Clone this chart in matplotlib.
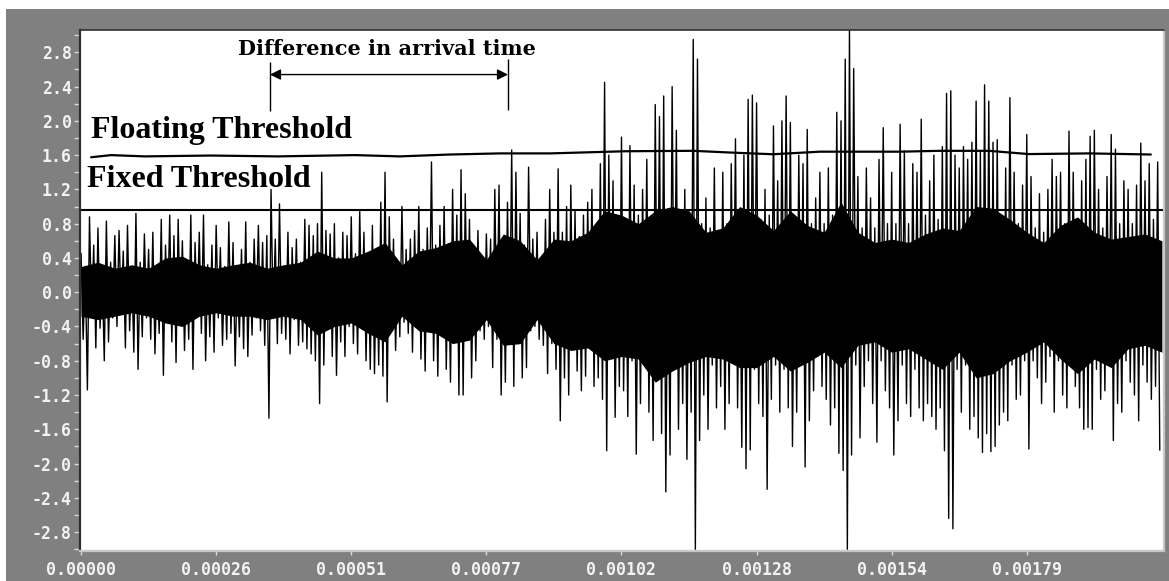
import numpy as np
import matplotlib.pyplot as plt
from matplotlib.patches import Rectangle
from matplotlib.ticker import MultipleLocator, FormatStrFormatter

# signal peaks, one value every 4 us (alternating up / down strokes)
dt = 4e-6
signal = [
    0.45, -0.55, 0.30, -1.14, 0.88, -0.28, 0.55, -0.65, 0.75, -0.42, 0.25, -0.80, 0.83, -0.58, 0.35, -0.30,
    0.66, -0.40, 0.72, -0.25, 0.48, -0.65, 0.78, -0.45, 0.30, -0.70, 0.92, -0.90, 0.35, -0.52, 0.68, -0.30,
    0.50, -0.55, 0.70, -0.72, 0.28, -0.48, 0.85, -0.97, 0.55, -0.30, 0.90, -0.58, 0.66, -0.82, 0.85, -0.35,
    0.60, -0.68, 0.30, -0.55, 0.90, -0.90, 0.58, -0.28, 0.70, -0.48, 0.90, -0.80, 0.32, -0.52, 0.55, -0.70,
    0.78, -0.30, 0.52, -0.62, 0.30, -0.55, 0.82, -0.48, 0.58, -0.86, 0.28, -0.52, 0.50, -0.66, 0.82, -0.75,
    0.35, -0.50, 0.62, -0.30, 0.78, -0.45, 0.58, -0.62, 0.66, -1.47, 1.20, -0.30, 0.62, -0.60, 1.03, -0.48,
    0.30, -0.55, 0.70, -0.72, 0.52, -0.32, 0.62, -0.62, 0.35, -0.58, 0.85, -0.66, 0.78, -0.72, 0.66, -0.80,
    0.80, -1.30, 1.40, -0.85, 0.72, -0.40, 0.68, -0.75, 0.80, -0.97, 0.40, -0.58, 0.70, -0.75, 0.66, -0.40,
    0.88, -0.60, 0.45, -0.72, 0.95, -0.40, 0.70, -0.80, 0.45, -0.90, 0.78, -0.95, 0.50, -0.85, 1.05, -0.98,
    1.40, -1.28, 0.88, -0.45, 0.62, -0.68, 0.35, -0.52, 1.00, -0.35, 0.50, -0.48, 0.62, -0.70, 0.72, -0.40,
    1.00, -0.78, 0.50, -0.92, 0.75, -0.45, 1.52, -0.80, 0.55, -0.98, 0.78, -0.50, 1.00, -0.90, 0.50, -1.05,
    1.20, -0.55, 0.90, -1.20, 1.43, -1.20, 1.15, -0.50, 0.85, -1.00, 0.55, -0.80, 0.72, -0.45, 0.40, -0.55,
    0.68, -0.40, 0.62, -0.88, 1.20, -0.55, 1.25, -1.20, 0.60, -1.05, 1.05, -0.60, 1.66, -1.10, 1.40, -0.60,
    0.92, -1.00, 0.55, -0.88, 1.46, -0.45, 0.62, -0.40, 0.70, -0.55, 0.40, -0.62, 0.85, -0.95, 1.20, -0.60,
    0.70, -0.90, 1.44, -1.50, 0.70, -1.00, 1.00, -1.20, 1.25, -0.65, 0.95, -0.92, 0.65, -1.15, 0.90, -0.98,
    1.05, -0.65, 1.20, -1.10, 0.75, -1.00, 1.50, -1.25, 2.45, -1.85, 1.60, -0.70, 1.30, -1.46, 0.80, -1.10,
    1.81, -1.15, 0.80, -1.45, 1.71, -0.80, 1.25, -1.89, 0.90, -1.30, 1.20, -0.75, 1.55, -1.40, 0.85, -1.73,
    2.19, -0.90, 2.05, -1.65, 2.29, -2.33, 0.85, -1.90, 2.40, -0.80, 1.89, -1.60, 0.80, -1.30, 1.20, -1.95,
    0.90, -1.40, 2.95, -3.00, 2.72, -1.73, 0.80, -1.20, 1.10, -1.60, 0.75, -0.85, 1.45, -1.35, 0.70, -1.10,
    1.40, -1.60, 0.80, -1.30, 1.50, -0.80, 1.79, -1.35, 0.85, -1.81, 1.60, -2.06, 2.25, -1.84, 2.30, -0.90,
    2.21, -1.30, 0.85, -1.45, 1.20, -2.30, 0.90, -1.25, 1.94, -0.85, 1.30, -1.40, 2.00, -0.90, 2.29, -1.35,
    1.98, -1.80, 0.85, -1.40, 1.60, -0.80, 1.50, -2.04, 1.90, -1.50, 0.80, -1.15, 1.10, -0.75, 1.40, -1.10,
    0.80, -1.25, 1.45, -1.55, 0.90, -1.35, 2.10, -1.88, 2.00, -2.08, 2.72, -3.00, 3.06, -1.90, 2.61, -0.85,
    1.35, -1.70, 0.75, -1.10, 1.45, -0.80, 1.10, -1.30, 0.75, -1.75, 1.55, -0.80, 1.92, -1.15, 0.80, -1.35,
    1.40, -1.90, 0.80, -1.50, 1.96, -0.85, 1.65, -1.30, 0.80, -1.45, 1.50, -0.90, 1.40, -1.35, 2.02, -1.50,
    0.90, -1.30, 1.30, -1.45, 1.60, -1.60, 0.85, -1.35, 1.70, -1.85, 2.32, -2.64, 2.35, -2.76, 1.60, -0.90,
    1.45, -1.40, 1.70, -0.85, 1.55, -1.60, 1.75, -1.45, 2.23, -1.70, 1.65, -1.87, 2.42, -1.65, 2.23, -1.86,
    1.75, -1.80, 1.78, -1.55, 0.90, -1.40, 1.45, -1.50, 2.27, -0.85, 1.40, -1.25, 0.80, -1.20, 1.25, -0.80,
    1.84, -1.83, 1.35, -0.80, 0.75, -1.00, 1.15, -1.30, 0.70, -1.05, 1.20, -0.75, 1.55, -1.40, 1.35, -0.80,
    1.40, -1.20, 0.80, -1.35, 1.88, -0.85, 1.40, -1.10, 0.85, -1.35, 1.30, -1.60, 1.55, -1.58, 1.82, -1.60,
    1.89, -0.90, 1.20, -1.25, 0.75, -1.15, 1.35, -0.85, 1.84, -1.73, 1.67, -1.30, 0.80, -1.40, 1.30, -0.80,
    1.20, -1.05, 0.80, -1.20, 1.25, -1.50, 1.74, -0.85, 1.30, -1.05, 1.50, -1.25, 0.85, -1.10, 1.52, -1.84,
]

# solid black band of the trace, one value every 32 us
core_hi = [0.30, 0.35, 0.28, 0.32, 0.28, 0.40, 0.42, 0.32, 0.28, 0.32, 0.35, 0.28, 0.32, 0.35, 0.48, 0.40,
           0.40, 0.48, 0.58, 0.32, 0.48, 0.52, 0.60, 0.62, 0.38, 0.68, 0.60, 0.38, 0.62, 0.60, 0.70, 0.95,
           0.90, 0.80, 0.95, 1.00, 0.95, 0.70, 0.75, 1.00, 0.90, 0.72, 0.95, 0.78, 0.70, 1.05, 0.70, 0.58,
           0.62, 0.58, 0.68, 0.75, 0.72, 1.00, 0.98, 0.85, 0.70, 0.58, 0.78, 0.88, 0.70, 0.62, 0.65, 0.68, 0.60]
core_lo = [-0.28, -0.32, -0.28, -0.24, -0.28, -0.36, -0.40, -0.28, -0.24, -0.28, -0.28, -0.32, -0.28, -0.32, -0.50, -0.40,
           -0.36, -0.48, -0.58, -0.28, -0.45, -0.48, -0.60, -0.56, -0.32, -0.62, -0.60, -0.32, -0.60, -0.68, -0.65, -0.80,
           -0.75, -0.78, -1.05, -0.92, -0.82, -0.75, -0.78, -0.88, -0.88, -0.75, -0.92, -0.82, -0.70, -0.88, -0.62, -0.58,
           -0.70, -0.66, -0.78, -0.90, -0.70, -1.00, -0.95, -0.80, -0.70, -0.58, -0.78, -0.95, -0.78, -0.88, -0.66, -0.62, -0.70]

# hand drawn floating threshold
float_t_us = [19, 57, 121, 246, 373, 519, 604, 699, 794, 889, 1031, 1160, 1230, 1311, 1400, 1552, 1626, 1720, 1796, 1910, 2027]
float_level = [1.575, 1.60, 1.585, 1.595, 1.585, 1.60, 1.585, 1.607, 1.62, 1.62, 1.645, 1.65, 1.63, 1.61, 1.64, 1.64,
               1.65, 1.65, 1.612, 1.62, 1.607]
fixed_level = 0.96

arrival_t = [358e-6, 809e-6]

xtick_vals = [0, 0.000256, 0.000512, 0.000768, 0.001024, 0.00128, 0.001536, 0.001792]
xtick_labels = ['0.00000', '0.00026', '0.00051', '0.00077', '0.00102', '0.00128', '0.00154', '0.00179']

plt.rcParams['font.family'] = 'DejaVu Sans Mono'
plt.rcParams['font.weight'] = 'bold'

t = np.arange(len(signal)) * dt
core_t = np.arange(len(core_hi)) * 32e-6

fig = plt.figure(figsize=(11.69, 5.81), dpi=100)
fig.patch.set_facecolor('white')
fig.add_artist(Rectangle((6 / 1169, 0), 1, 1 - 9 / 581, transform=fig.transFigure,
                         facecolor='#808080', edgecolor='none', zorder=-10))

ax = fig.add_axes([80 / 1169, 30 / 581, 1084 / 1169, 521 / 581])
ax.set_facecolor('white')

ax.fill_between(core_t, core_lo, core_hi, color='black', lw=0)
ax.plot(t, signal, color='black', lw=1.0)
ax.axhline(fixed_level, color='black', lw=1.5)
ax.plot(np.array(float_t_us) * 1e-6, float_level, color='black', lw=1.6, solid_capstyle='round')

# arrival time markers and arrow
ax.vlines(arrival_t, [2.11, 2.13], [2.69, 2.72], color='black', lw=1)
ax.annotate('', xy=(arrival_t[0], 2.54), xytext=(arrival_t[1], 2.54),
            arrowprops=dict(arrowstyle='<|-|>', color='black', lw=1.0, mutation_scale=16,
                            shrinkA=0, shrinkB=0))
ax.text(sum(arrival_t) / 2 - 3e-6, 2.835, 'Difference in arrival time', ha='center', va='center',
        fontsize=15, fontweight='bold', family='DejaVu Serif')
ax.text(1.84e-5, 1.794, 'Floating Threshold', ha='left', va='baseline',
        fontsize=23, fontweight='bold', family='Liberation Serif')
ax.text(1.19e-5, 1.223, 'Fixed Threshold', ha='left', va='baseline',
        fontsize=23, fontweight='bold', family='Liberation Serif')

ax.set_xlim(-2e-6, 2.052e-3)
ax.set_ylim(-3.02, 3.06)

ax.set_xticks(xtick_vals)
ax.set_xticklabels(xtick_labels)
ax.set_yticks(np.round(np.arange(-7, 8) * 0.4, 1))
ax.yaxis.set_major_formatter(FormatStrFormatter('%.1f'))
ax.yaxis.set_minor_locator(MultipleLocator(0.2))

ax.tick_params(axis='y', which='both', direction='out', length=4, width=1,
               color='#d8d8d8', labelcolor='#f2f2f2', labelsize=12, pad=2)
ax.tick_params(axis='x', which='both', direction='out', length=3, width=1,
               color='#d8d8d8', labelcolor='#f2f2f2', labelsize=12, pad=4)

ax.spines['left'].set_color('#303030')
ax.spines['left'].set_linewidth(1.6)
ax.spines['top'].set_color('#303030')
ax.spines['top'].set_linewidth(1.2)
ax.spines['bottom'].set_color('#c8c8c8')
ax.spines['bottom'].set_linewidth(1.6)
ax.spines['right'].set_color('#c8c8c8')
ax.spines['right'].set_linewidth(1.6)

fig.savefig('out.png', dpi=100, facecolor=fig.get_facecolor())
